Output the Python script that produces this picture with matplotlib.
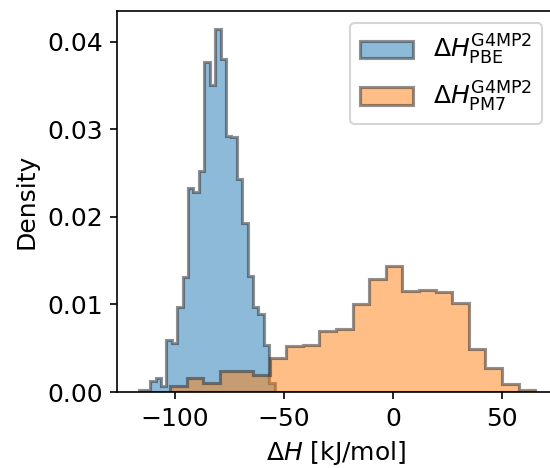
import numpy as np
import matplotlib
matplotlib.use("Agg")
import matplotlib.pyplot as plt

# Blue histogram (PBE): bin start, width, densities
pbe_start = -116.2
pbe_width = 2.48
pbe_density = [0.0002, 0.0002, 0.0013, 0.0016, 0.0007, 0.0059, 0.0056, 0.0097,
               0.0131, 0.0233, 0.0228, 0.0252, 0.0377, 0.0351, 0.0415, 0.0380,
               0.0292, 0.0291, 0.0243, 0.0193, 0.0132, 0.0097, 0.0089, 0.0054,
               0.0010]

# Orange histogram (PM7)
pm7_start = -102.1
pm7_width = 7.6
pm7_density = [0.0007, 0.0016, 0.0010, 0.0024, 0.0024, 0.0019, 0.0039, 0.0052,
               0.0054, 0.0070, 0.0072, 0.0100, 0.0129, 0.0144, 0.0115, 0.0117,
               0.0114, 0.0102, 0.0049, 0.0027, 0.0009, 0.0002]

labels = [r"$\Delta H^{\mathrm{G4MP2}}_{\mathrm{PBE}}$",
          r"$\Delta H^{\mathrm{G4MP2}}_{\mathrm{PM7}}$"]
xticks = [-100, -50, 0, 50]
yticks = [0.00, 0.01, 0.02, 0.03, 0.04]

plt.rcParams['font.size'] = 12
plt.rcParams['font.family'] = ['DejaVu Sans']

fig = plt.figure(figsize=(550 / 150, 468 / 150), dpi=150)
ax = fig.add_axes([117.3 / 550, 76 / 468, 437.3 / 550, 381.3 / 468])

def edges_of(start, width, n):
    return start + width * np.arange(n + 1)

e1 = edges_of(pbe_start, pbe_width, len(pbe_density))
e2 = edges_of(pm7_start, pm7_width, len(pm7_density))

ax.hist(e1[:-1], bins=e1, weights=pbe_density, histtype='stepfilled',
        alpha=0.5, color='tab:blue', edgecolor='0.15', linewidth=1.5, label=labels[0])
ax.hist(e2[:-1], bins=e2, weights=pm7_density, histtype='stepfilled',
        alpha=0.5, color='tab:orange', edgecolor='0.15', linewidth=1.5, label=labels[1])

ax.set_xlim(-126.3, 74.0)
ax.set_ylim(0, 0.04354)
ax.set_xticks(xticks)
ax.set_yticks(yticks)
ax.set_xlabel(r"$\Delta H$ [kJ/mol]")
ax.set_ylabel("Density")
ax.legend(loc='upper right', handlelength=2.1)

fig.savefig("out.png", dpi=150)
